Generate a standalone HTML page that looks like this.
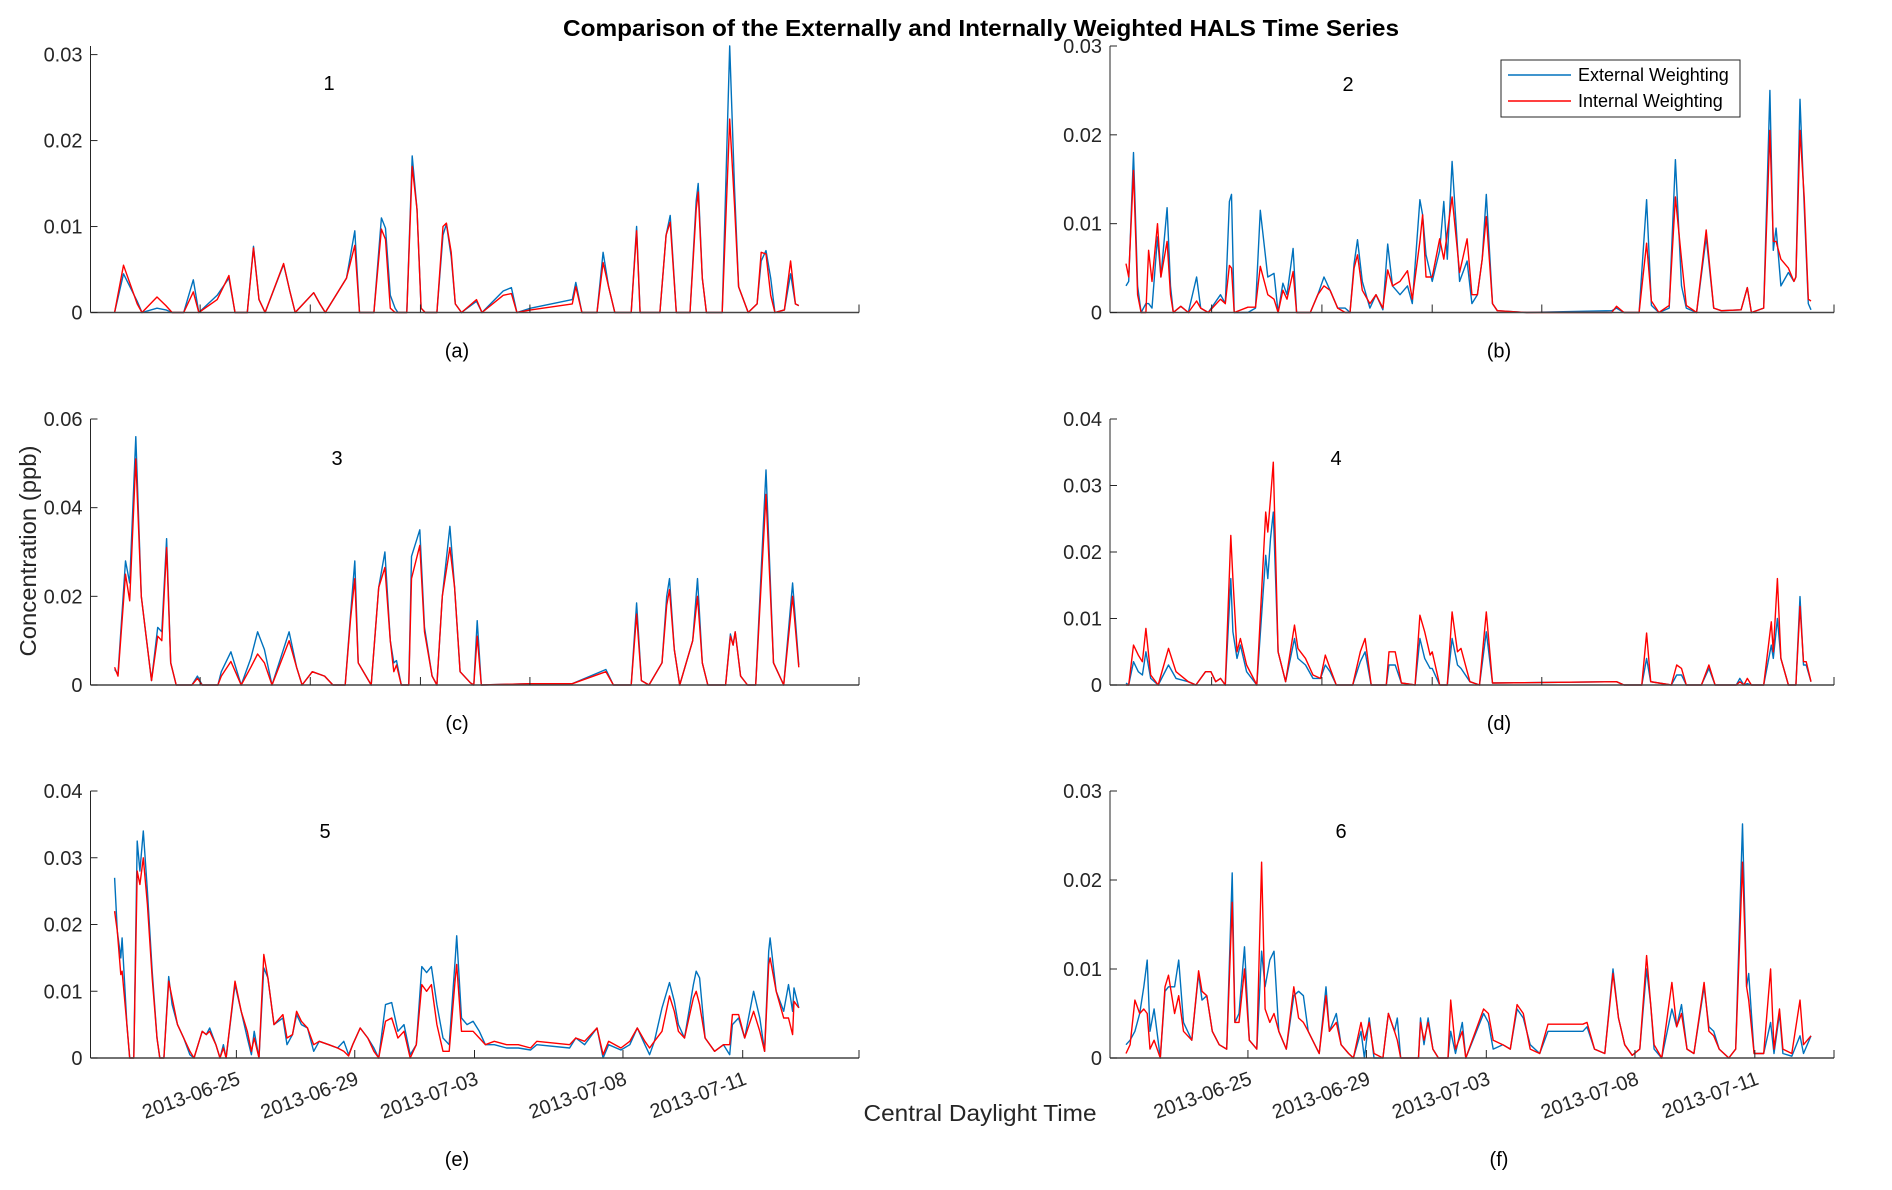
<!DOCTYPE html>
<html><head><meta charset="utf-8">
<style>
html,body{margin:0;padding:0;background:#fff;}
svg{display:block;font-family:"Liberation Sans",Arial,sans-serif;}
</style></head>
<body>
<svg id="fig" width="1892" height="1190" viewBox="0 0 1892 1190" xmlns="http://www.w3.org/2000/svg">
<rect width="1892" height="1190" fill="#fff"/>
<text x="981" y="36" text-anchor="middle" font-size="23" font-weight="bold" textLength="836" lengthAdjust="spacingAndGlyphs" fill="#000">Comparison of the Externally and Internally Weighted HALS Time Series</text>
<text transform="translate(36,551) rotate(-90)" text-anchor="middle" font-size="23" textLength="211" lengthAdjust="spacingAndGlyphs" fill="#262626">Concentration (ppb)</text>
<text x="980" y="1121" text-anchor="middle" font-size="23" textLength="233" lengthAdjust="spacingAndGlyphs" fill="#262626">Central Daylight Time</text>
<g id="panels"></g>
<g>
<rect x="1501" y="60" width="239" height="57" fill="#fff" stroke="#262626" stroke-width="1"/>
<line x1="1508" y1="75" x2="1571" y2="75" stroke="#0072BD" stroke-width="1.4"/>
<text x="1578" y="81" font-size="18" fill="#000">External Weighting</text>
<line x1="1508" y1="101" x2="1571" y2="101" stroke="#FF0000" stroke-width="1.4"/>
<text x="1578" y="107" font-size="18" fill="#000">Internal Weighting</text>
</g>
</svg>
<script>
// time positions are % of the record span; values in units of 0.001 ppb
const t1=[0,1.3,3.3,4,6.2,7.5,8.4,10.1,11.5,12.3,15,16.7,17.6,19.4,20.3,21.1,22,24.7,25.6,26.4,29.1,30,30.8,33.9,35.1,35.8,37.9,39,39.6,40.3,41,41.4,42.7,43.5,44.2,44.8,45.4,47.1,48,48.5,49.2,49.8,50.7,52.9,53.7,56.8,58,58.8,60.8,66.9,67.4,68.3,70.5,71.4,72.2,73.1,75.5,76.3,76.8,79.7,80.6,81.2,82.1,84.1,85,85.3,85.9,86.5,88.8,89.9,90.6,91.2,92.6,93.9,94.5,95.2,95.9,96.5,97.9,98.8,99.5,100];
const ext1=[0,4.5,1.3,0,0.5,0.3,0,0,3.8,0,2,4,0,0,7.7,1.5,0,5.6,2.5,0,2.3,1,0,4,9.5,0,0,11,9.8,2,0.5,0,0,18.2,12,0.5,0,0,9,10.3,6.5,1,0,1.3,0,2.5,2.9,0,0.5,1.5,3.5,0,0,7,3,0,0,10,0,0,9,11.3,0,0,13,15,4,0,0,31,14.5,3,0,1,6,7.2,4,0,0.3,4.5,1,0.8];
const int1=[0,5.5,1,0,1.8,0.8,0,0,2.4,0,1.5,4.3,0,0,7.5,1.5,0,5.7,2.5,0,2.3,1,0,4,7.8,0,0,9.7,8.5,0.5,0,0,0,17,12,0.5,0,0,10,10.4,7,1,0,1.5,0,2,2.2,0,0.3,1,3,0,0,5.8,3,0,0,9.5,0,0,9,10.5,0,0,12,14,4,0,0,22.5,12.5,3,0,1,7,6.8,2,0,0.3,6,1,0.8];

const t2=[0,0.4,1.1,1.7,2.2,2.9,3.3,3.8,4.6,5.1,6,6.5,6.9,8,9.1,10.3,10.9,12,13.8,14.5,15.1,15.4,15.8,17.8,18.9,19.6,20.7,21.6,22.2,22.9,23.5,24.4,24.9,26.9,28,28.9,29.8,30.9,32,32.7,33.3,33.8,34.5,35.6,36.5,37.5,38.2,38.9,40,41.1,41.8,42.9,43.3,43.8,44.7,45.8,46.4,46.9,47.6,48.7,49.8,50.5,51.3,52,52.6,53.5,54.2,58.5,70.9,71.6,72.7,74.9,76,76.7,77.8,79.3,80.2,81.1,81.8,83.3,84.7,85.8,86.9,89.8,90.7,91.3,93.1,94,94.5,94.9,95.6,96.7,97.5,97.8,98.4,99,99.6,100];
const ext2=[3,3.5,18,3,0,1,1,0.5,8.5,4,11.8,3,0,0.7,0,4,0.5,0,2,1,12.5,13.3,0,0,0.5,11.5,4,4.4,0,3.3,2,7.2,0,0,2,4,2.5,0.5,0.5,0,5.5,8.2,3.5,0.5,2,0.3,7.7,3,2,3,1,12.7,11,6.5,3.5,7,12.5,6,17,3.5,5.8,1,2,6,13.3,1,0.2,0,0.2,0.5,0,0,12.7,0.8,0,0.5,17.2,3,0.5,0,8.5,0.5,0.2,0.3,2.8,0,0.5,25,7,9.5,3,4.5,3.5,4,24,12,1,0.3];
const int2=[5.5,4,16,2,0,0,7,3.5,10,4,8,2,0,0.7,0,1.3,0.5,0,1.5,1,5.3,5,0,0.6,0.6,5.2,2,1.5,0,2.5,1.5,4.6,0,0,2,3,2.5,0.5,0,0,5,6.5,2.5,1,2,0.5,4.8,3,3.5,4.7,1.5,8,11,4,4,8.3,6,9,13,4.5,8.3,2,2,6,10.8,1,0.2,0,0,0.7,0,0,7.8,1.3,0,0.8,13,6,0.8,0,9.3,0.5,0.2,0.3,2.8,0,0.5,20.5,8,8,6,5,3.5,4,20.5,13,1.5,1.3];

const t3=[0,0.5,1.6,2.2,3.1,3.9,4.6,5.4,6.3,6.9,7.6,8.2,9,11.3,12.1,12.8,15.1,15.6,17,18.5,19.9,20.9,21.9,23,25.5,26.6,27.4,28.9,30.7,31.9,33.7,34.5,35.1,35.6,37.5,38.6,39.5,40.3,40.8,41.2,41.9,43,43.4,44.6,45.3,46.4,47.1,47.9,49,49.7,50.5,52,52.5,53,53.6,60.6,66.9,71.8,72.9,75.5,76.3,77,78.1,80,80.7,81.1,81.8,82.6,84.5,85.2,85.9,86.7,89.3,90,90.4,90.7,91.5,92.5,93.7,95.2,96.3,97.8,99.1,100];
const ext3=[3.5,2.5,28,23,56,20,11,1,13,12,33,5,0,0,2,0,0,3,7.5,0,6,12,8,0,12,4,0,3,2,0,0,16,28,5,0,22,30,10,5,5.5,0,0,29,35,13,2,0,20,35.8,22,3,0.5,0,14.5,0,0.3,0.3,3.5,0,0,18.5,1,0,5,20,24,8,0,10,24,5,0,0,11.5,9,12,2,0,0,48.5,5,0,23,4.5];
const int3=[4,2,25,19,51,20,11,1,11,10,31,5,0,0,1.5,0,0,2,5.3,0,4,7,5,0,10,4,0,3,2,0,0,15,24,5,0,22,26.5,10,3,4.5,0,0,24,31.5,12,2,0,20,31,22,3,0.5,0,11,0,0.3,0.3,3,0,0,16,1,0,5,18,21.5,8,0,10,20,5,0,0,11,9,12,2,0,0,43,5,0,20,4];

const t4=[0,0.4,1.1,1.8,2.4,2.9,3.6,4.7,6.2,7.3,9.1,10.2,11.6,12.4,13.1,13.8,14.5,15.3,15.6,16.2,16.7,17.6,19.1,20.4,20.7,21.1,21.5,22.2,23.3,24.6,25.1,26.2,27.3,28.4,29.1,29.8,30.7,33.1,34.2,34.9,35.8,38,38.4,39.3,40.2,42.2,42.9,43.6,44.4,44.7,45.8,46.9,47.6,48.4,48.9,50.2,51.6,52.6,53.5,71.6,72.7,75.3,76,76.6,79.6,80.4,81.1,81.8,84,85.1,86,89.1,89.6,90.2,90.7,91.3,93.1,94.2,94.5,95.1,95.6,96.7,97.8,98.4,98.9,99.3,100];
const ext4=[0.3,0,3.5,2,1.5,5,1,0,3,1,0.5,0,2,2,0.5,1,0,16,8,4,6,2,0,19.5,16,22,26,5,0.5,7,4,3,1,1,3,2,0,0,3.5,5,0,0,3,3,0.3,0,7,4,2.5,2.5,0,0,7,3,2.5,0.5,0,8,0.3,0.5,0,0,4,0.5,0,1.5,1.5,0,0,2.5,0,0,1,0,0.2,0,0,6,4,10,4,0,0,13.3,3,3,0.5];
const int4=[0,0,6,4.5,3.5,8.5,1.5,0,5.5,2,0.5,0,2,2,0.5,1,0,22.5,16,5,7,3,0,26,23,28,33.5,5,0.5,9,5.5,4,1.5,1,4.5,2.5,0,0,5,7,0,0,5,5,0.3,0,10.5,8,4.5,5,0,0,11,5,5.5,0.5,0,11,0.3,0.5,0,0,7.8,0.5,0,3,2.5,0,0,3,0,0,0.5,0,1,0,0,9.5,5,16,4,0,0,11.8,3.5,3.5,0.5];

const t5=[0,0.4,0.9,1.1,1.8,2.2,2.8,3.3,3.7,4.2,4.8,5.5,6.2,6.6,7.2,7.9,8.4,9.2,10.1,11,11.6,12.8,13.4,13.9,14.8,15.4,15.9,16.3,17.6,18.5,19.4,20,20.4,21.1,21.8,22.4,23.3,24.6,25.2,26,26.6,27.3,28.2,29.1,29.9,31.3,32.6,33.5,34.2,34.8,35.9,37,37.9,38.6,39.6,40.5,41.4,42.3,43.2,44.1,44.9,45.6,46.3,47.1,48,48.9,49.8,50,50.7,51.5,52.4,53.3,54.2,55.5,57.3,59,60.8,61.7,66.5,67.4,68.7,70.5,71.4,72.2,74,75.3,76.4,77.5,78.2,78.9,80,81.1,81.8,82.4,83.3,84.6,85,85.5,86.3,87.7,89,89.9,90.3,91.2,92.1,93.4,94.3,95,95.6,95.8,96.7,97.8,98.5,99.1,99.3,100];
const ext5=[27,19,15,18,5,0,0,32.5,28,34,25,13,3,0,0,12.2,8,5,3,0.5,0,4,3.5,4.5,2,0,2,0,11,7,3,0.5,4,0,13.5,12,5,6,2,3.5,6.5,5,4.5,1,2.5,2,1.5,2.5,0.5,2,4.5,3,1.5,0,8,8.3,4,5,0.5,2,13.7,12.8,13.7,8,3,2,15,18.3,6,5,5.5,4,2,2,1.5,1.5,1.2,2,1.5,3,2,4.5,0,2,1.2,2,4.5,2,0.5,2.5,7.5,11.3,8.5,5,3,11,13,12,3,1,2,0.5,5,6,3,10,6,1,16,18,10,7,11,7,10.5,7.5];
const int5=[22,19,12.5,13,5,0,0,28,26,30,23,12,3,0,0,11.5,9,5,3,1,0,4,3.5,4,2,0,1.5,0,11.5,7,4,1,3,0,15.5,12,5,6.5,3,3.5,7,5.5,4.5,2,2.5,2,1.5,1,0.3,2,4.5,3,1,0,5.5,6,3,4,0,2,11,10,11,5,1,1,12,14,4,4,4,3,2,2.5,2,2,1.5,2.5,2,3,2.5,4.5,0.5,2.5,1.5,2.5,4.5,2.5,1.5,2.5,4,9.3,7,4,3,9,10,8,3,1,2,2,6.5,6.5,3,7,4,1,14,15,10,6,6,3.5,8.5,7.5];

const t6=[0,0.6,1.3,2,2.6,3.1,3.5,4.1,5,5.7,6.2,7.1,7.7,8.4,9.6,10.6,11.1,11.8,12.6,13.6,14.7,15.5,15.9,16.5,17.3,18,19.1,19.8,20.3,21,21.6,22.3,23.4,24.5,25.2,25.9,26.6,28.2,29.2,29.7,30.7,31.4,32.5,33.2,34.3,34.8,35.5,36.2,37.5,38.3,39.2,39.6,40.1,42.7,43,43.5,44.1,44.8,45.6,47,47.4,48.1,49.1,49.6,52.2,52.9,53.6,55,56.1,57.1,58,59,60.4,61.6,66.7,67.3,68.4,69.9,71.1,71.9,72.8,73.9,75,76,76.6,77.1,78.2,79.7,80.4,81.1,81.9,82.9,84.4,85.1,85.8,86.6,88,89,90,90.6,90.9,91.7,93.1,94.1,94.6,95.4,95.9,97.2,98.4,98.9,100];
const ext6=[1.5,2,3,5,8,11,3,5.5,0,7.5,8,8,11,4,2,9.5,6.5,7,3,1.5,1,20.8,4,5,12.5,2,1,12,8,11,12,3,1,7,7.5,7,3,0.5,8,3,5,1.5,0.5,0,3,0,4.5,0,0,5,3,4.5,0,0,4.5,1.5,4.5,1,0,0,3,0.5,4,0,5,4,1,1.5,1,5.5,4.5,1.5,0.5,3,3,3.5,1,0.5,10,4.5,1.5,0.3,1,10,6,1,0,5.5,3.5,6,1,0.5,8,3.5,3,1,0,1,26.3,8,9.5,0.5,0.5,4,0.5,5,0.5,0.2,2.5,0.5,2.5];
const int6=[0.5,1.5,6.5,5,5.5,5,1,2,0,8,9.3,5,7,3,2,9.8,7.5,7,3,1.5,1,17.5,4,4,10,2,1,22,5.5,4,5,3,1,8,4.5,4,3,0.5,7,3,4,1.5,0.5,0,4,2,4,0.5,0,5,3,2,0,0,4,2,4,1,0,0,6.5,1,3,0,5.5,5,2,1.5,1,6,5,1,0.5,3.8,3.8,4,1,0.5,9.5,4.5,1.5,0.3,1,11.5,6,1.5,0,8.5,3.5,5,1,0.5,8.5,3,2.5,1,0,1,22,8,6.5,0.5,0.5,10,1,5.5,1,0.5,6.5,1.5,2.5];

const yTicks1=[0,10,20,30], yTickLabels1=["0","0.01","0.02","0.03"];
const yTicks3=[0,20,40,60], yTickLabels3=["0","0.02","0.04","0.06"];
const yTicks4=[0,10,20,30,40], yTickLabels4=["0","0.01","0.02","0.03","0.04"];
const dateTicks=[17.8,35.1,52.6,74.3,91.8];
const dateLabels=["2013-06-25","2013-06-29","2013-07-03","2013-07-08","2013-07-11"];
const plainTicks=[12.5,28.6,44.7,60.7];

const NS="http://www.w3.org/2000/svg";
const root=document.getElementById('panels');
function mk(tag,attrs,parent){const e=document.createElementNS(NS,tag);for(const k in attrs)e.setAttribute(k,attrs[k]);(parent||root).appendChild(e);return e;}

const L={x0:90.5,x1:859,d0:114.6,d1:798.8,lab:457}, R={x0:1110,x1:1834,d0:1126,d1:1811,lab:1499};
const panels=[
 {id:1,tag:'a',side:L,yb:312.5,yt:46,ymax:31,t:t1,ext:ext1,int:int1,yt_:yTicks1,yl:yTickLabels1,dates:false,num:[329,90]},
 {id:2,tag:'b',side:R,yb:312.5,yt:46,ymax:30,t:t2,ext:ext2,int:int2,yt_:yTicks1,yl:yTickLabels1,dates:false,num:[1348,91]},
 {id:3,tag:'c',side:L,yb:685,yt:419,ymax:60,t:t3,ext:ext3,int:int3,yt_:yTicks3,yl:yTickLabels3,dates:false,num:[337,465]},
 {id:4,tag:'d',side:R,yb:685,yt:419,ymax:40,t:t4,ext:ext4,int:int4,yt_:yTicks4,yl:yTickLabels4,dates:false,num:[1336,465]},
 {id:5,tag:'e',side:L,yb:1058,yt:791,ymax:40,t:t5,ext:ext5,int:int5,yt_:yTicks4,yl:yTickLabels4,dates:true,num:[325,838]},
 {id:6,tag:'f',side:R,yb:1058,yt:791,ymax:30,t:t6,ext:ext6,int:int6,yt_:yTicks1,yl:yTickLabels1,dates:true,num:[1341,838]}
];

panels.forEach(p=>{
  const s=p.side;
  const xs=t=>s.d0+(s.d1-s.d0)*t/100;
  const ys=v=>p.yb-(p.yb-p.yt)*v/p.ymax;
  const g=mk('g',{});
  
  
  const n=Math.min(p.t.length,p.ext.length,p.int.length);
  let de='',di='';
  for(let i=0;i<n;i++){de+=(i?'L':'M')+xs(p.t[i]).toFixed(1)+' '+ys(p.ext[i]).toFixed(1);di+=(i?'L':'M')+xs(p.t[i]).toFixed(1)+' '+ys(p.int[i]).toFixed(1);}
  const pe=mk('path',{d:de,fill:'none',stroke:'#0072BD','stroke-width':1.4,'stroke-linejoin':'round'},g);
  
  
  const pi=mk('path',{d:di,fill:'none',stroke:'#FF0000','stroke-width':1.4,'stroke-linejoin':'round'},g);
  
  
  const ya=mk('line',{x1:s.x0,y1:p.yb,x2:s.x0,y2:p.yt,stroke:'#262626','stroke-width':1},g);
  
  
  const xa=mk('line',{x1:s.x0,y1:p.yb,x2:s.x1,y2:p.yb,stroke:'#444','stroke-width':1.6},g);
  
  
  mk('line',{x1:s.x1,y1:p.yb,x2:s.x1,y2:p.yb-8,stroke:'#262626','stroke-width':1},g);
  p.yt_.forEach((v,i)=>{
    mk('line',{x1:s.x0,y1:ys(v),x2:s.x0+7,y2:ys(v),stroke:'#262626','stroke-width':1},g);
    const tl=mk('text',{x:s.x0-8,y:ys(v)+7,'text-anchor':'end','font-size':20,fill:'#262626'},g);
    tl.textContent=p.yl[i];
    
    
  });
  const xt=p.dates?dateTicks:plainTicks;
  xt.forEach((t,i)=>{
    mk('line',{x1:xs(t),y1:p.yb,x2:xs(t),y2:p.yb-8,stroke:'#262626','stroke-width':1},g);
    if(p.dates){
      const dl=mk('text',{transform:'translate('+(xs(t)+5)+','+(p.yb+26)+') rotate(-20)','text-anchor':'end','font-size':20,fill:'#262626'},g);
      dl.textContent=dateLabels[i];
      
      
    }
  });
  const nt=mk('text',{x:p.num[0],y:p.num[1],'text-anchor':'middle','font-size':20,fill:'#000'},g);
  nt.textContent=String(p.id);
  
  
  const ly=p.dates?1166:p.yb+45;
  const pl=mk('text',{x:s.lab,y:ly,'text-anchor':'middle','font-size':20,fill:'#000'},g);
  pl.textContent='('+p.tag+')';
  
  
});
</script>
</body></html>
